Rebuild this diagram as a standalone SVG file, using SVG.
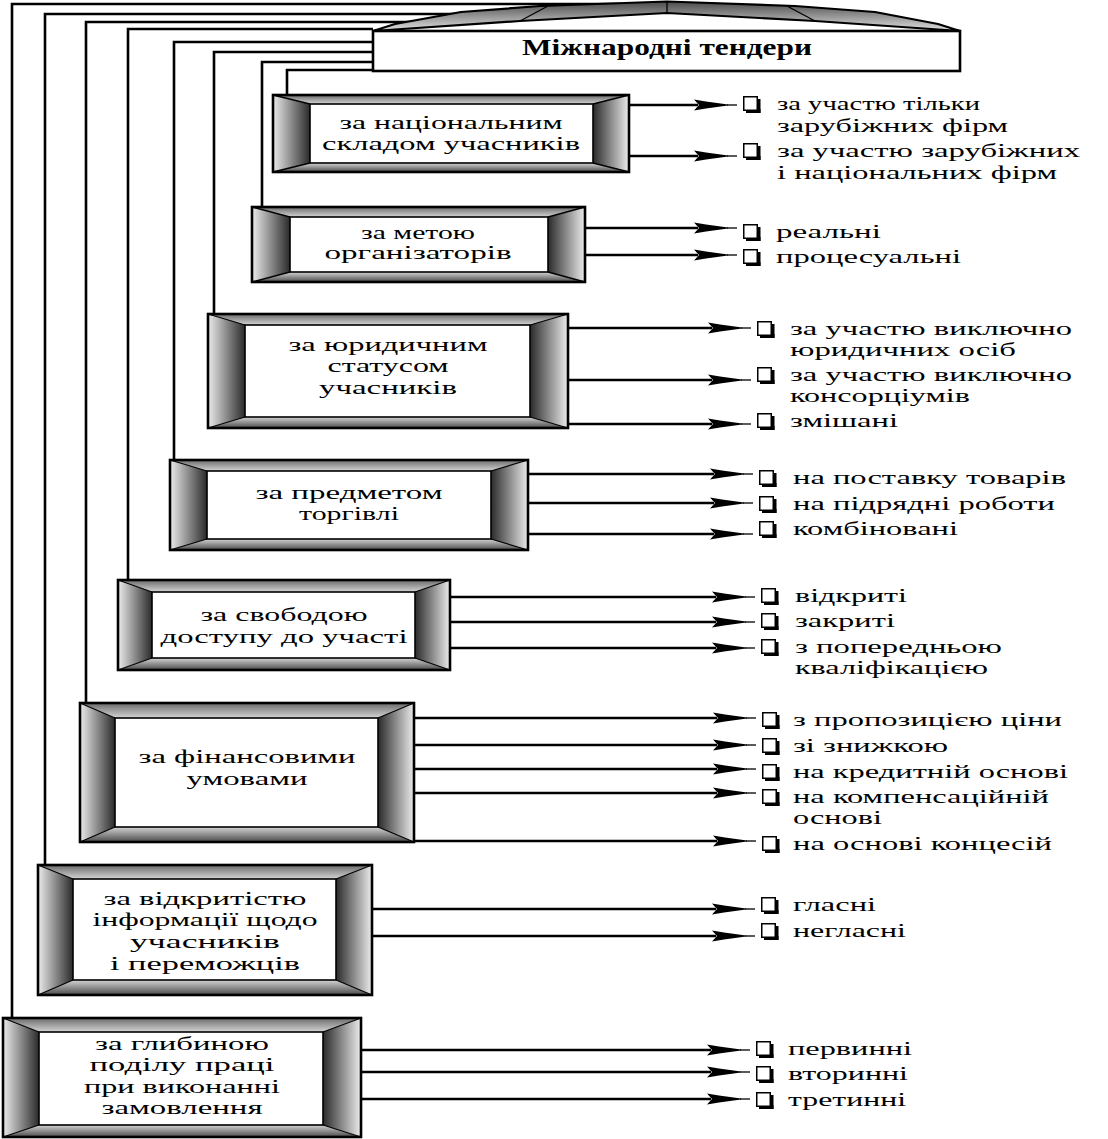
<svg xmlns="http://www.w3.org/2000/svg" width="1108" height="1139" viewBox="0 0 1108 1139">
<defs>
<style>
.ln{stroke:#000;stroke-width:2.6;fill:none}
.ar{stroke:#000;stroke-width:2.6;fill:none;marker-end:url(#ah)}
.ol{fill:none;stroke:#000;stroke-width:2.6}
.ir{fill:#fff;stroke:#000;stroke-width:1.6}
.dg{stroke:#000;stroke-width:1.3}
.t{font-family:"Liberation Serif","Times New Roman",serif;font-size:19.5px;fill:#000}
.c{text-anchor:middle}
.h{font-weight:bold;font-size:23px}
</style>
<linearGradient id="gL" x1="0" y1="0" x2="1" y2="0"><stop offset="0" stop-color="#ececec"/><stop offset="1" stop-color="#2a2a2a"/></linearGradient>
<linearGradient id="gR" x1="0" y1="0" x2="1" y2="0"><stop offset="0" stop-color="#2a2a2a"/><stop offset="1" stop-color="#ececec"/></linearGradient>
<linearGradient id="gT" x1="0" y1="0" x2="0" y2="1"><stop offset="0" stop-color="#6a6a6a"/><stop offset="1" stop-color="#d4d4d4"/></linearGradient>
<linearGradient id="gB" x1="0" y1="0" x2="0" y2="1"><stop offset="0" stop-color="#d4d4d4"/><stop offset="1" stop-color="#4a4a4a"/></linearGradient>
<linearGradient id="gRoof" x1="0" y1="0" x2="0" y2="1"><stop offset="0" stop-color="#4a4a4a"/><stop offset="1" stop-color="#e0e0e0"/></linearGradient>
<marker id="ah" markerUnits="userSpaceOnUse" markerWidth="50" markerHeight="16" viewBox="-4 -8 50 16" refX="0" refY="0" orient="auto" overflow="visible">
<path d="M-4,-5.5 L8,-3.5 L30,-0.6 L30,0.6 L8,3.5 L-4,5.5 L1,0 Z" fill="#000"/>
<line x1="29" y1="0" x2="39" y2="0" stroke="#000" stroke-width="1.3"/>
</marker>
<g id="cbx">
<rect x="3" y="13" width="14.5" height="4" fill="#000"/>
<rect x="13.5" y="3" width="4" height="14" fill="#000"/>
<rect x="0.75" y="0.75" width="13.5" height="13.5" fill="#fff" stroke="#000" stroke-width="1.5"/>
</g>
</defs>

<rect width="1108" height="1139" fill="#fff"/>

<g id="connectors">
<path class="ln" d="M12,1018 V4 H620"/>
<path class="ln" d="M45,865 V14 H480"/>
<path class="ln" d="M86,703 V22 H450"/>
<path class="ln" d="M128,580 V29 H373"/>
<path class="ln" d="M174,460 V42 H373"/>
<path class="ln" d="M214,314 V52 H373"/>
<path class="ln" d="M262,207 V62 H373"/>
<path class="ln" d="M287,95 V70 H373"/>

<path class="ar" d="M629,105 H698"/>
<path class="ar" d="M629,156 H698"/>
<path class="ar" d="M585,228 H698"/>
<path class="ar" d="M585,255 H698"/>
<path class="ar" d="M568,328 H712"/>
<path class="ar" d="M568,380 H712"/>
<path class="ar" d="M568,424 H712"/>
<path class="ar" d="M528,474 H714"/>
<path class="ar" d="M528,503 H714"/>
<path class="ar" d="M528,534 H714"/>
<path class="ar" d="M450,597 H716"/>
<path class="ar" d="M450,622 H716"/>
<path class="ar" d="M450,648 H716"/>
<path class="ar" d="M414,718 H717"/>
<path class="ar" d="M414,745 H717"/>
<path class="ar" d="M414,769 H717"/>
<path class="ar" d="M414,793 H717"/>
<path class="ar" d="M414,841 H717"/>
<path class="ar" d="M372,909 H716"/>
<path class="ar" d="M372,936 H716"/>
<path class="ar" d="M361,1050 H711"/>
<path class="ar" d="M361,1072 H711"/>
<path class="ar" d="M361,1099 H711"/>
</g>

<g id="root">
<path d="M373,31 L395,24 L461,12 L540,6 L667,1.5 L795,6 L875,12 L938,24 L960,31 L815,21 L667,13 L520,21 Z" fill="url(#gRoof)" stroke="#000" stroke-width="2.2" stroke-linejoin="round"/>
<line class="dg" x1="520" y1="21" x2="548" y2="6"/>
<line class="dg" x1="667" y1="1.5" x2="667" y2="13"/>
<line class="dg" x1="787" y1="6" x2="815" y2="21"/>
<rect x="373" y="31" width="587" height="40" fill="#fff" stroke="#000" stroke-width="2.6"/>
<text class="t c h" x="667" y="55" textLength="290" lengthAdjust="spacingAndGlyphs">Міжнародні тендери</text>
</g>

<g id="n1">
<polygon points="273,95 629,95 593,104 310,104" fill="url(#gT)"/>
<polygon points="273,172 629,172 593,163 310,163" fill="url(#gB)"/>
<polygon points="273,95 310,104 310,163 273,172" fill="url(#gL)"/>
<polygon points="629,95 593,104 593,163 629,172" fill="url(#gR)"/>
<path class="dg" d="M273,95 L310,104 M629,95 L593,104 M273,172 L310,163 M629,172 L593,163"/>
<rect class="ir" x="310" y="104" width="283" height="59"/>
<rect class="ol" x="273" y="95" width="356" height="77"/>
<text class="t c" x="451" y="129" textLength="223" lengthAdjust="spacingAndGlyphs">за національним</text>
<text class="t c" x="451" y="150" textLength="258" lengthAdjust="spacingAndGlyphs">складом учасників</text>
</g>

<g id="n2">
<polygon points="252,207 585,207 548,217 290,217" fill="url(#gT)"/>
<polygon points="252,282 585,282 548,272 290,272" fill="url(#gB)"/>
<polygon points="252,207 290,217 290,272 252,282" fill="url(#gL)"/>
<polygon points="585,207 548,217 548,272 585,282" fill="url(#gR)"/>
<path class="dg" d="M252,207 L290,217 M585,207 L548,217 M252,282 L290,272 M585,282 L548,272"/>
<rect class="ir" x="290" y="217" width="258" height="55"/>
<rect class="ol" x="252" y="207" width="333" height="75"/>
<text class="t c" x="418" y="239" textLength="114" lengthAdjust="spacingAndGlyphs">за метою</text>
<text class="t c" x="418" y="259" textLength="187" lengthAdjust="spacingAndGlyphs">організаторів</text>
</g>

<g id="n3">
<polygon points="208,314 568,314 530,325 245,325" fill="url(#gT)"/>
<polygon points="208,428 568,428 530,417 245,417" fill="url(#gB)"/>
<polygon points="208,314 245,325 245,417 208,428" fill="url(#gL)"/>
<polygon points="568,314 530,325 530,417 568,428" fill="url(#gR)"/>
<path class="dg" d="M208,314 L245,325 M568,314 L530,325 M208,428 L245,417 M568,428 L530,417"/>
<rect class="ir" x="245" y="325" width="285" height="92"/>
<rect class="ol" x="208" y="314" width="360" height="114"/>
<text class="t c" x="388" y="351" textLength="199" lengthAdjust="spacingAndGlyphs">за юридичним</text>
<text class="t c" x="388" y="372" textLength="121" lengthAdjust="spacingAndGlyphs">статусом</text>
<text class="t c" x="388" y="394" textLength="138" lengthAdjust="spacingAndGlyphs">учасників</text>
</g>

<g id="n4">
<polygon points="170,460 528,460 491,471 207,471" fill="url(#gT)"/>
<polygon points="170,550 528,550 491,539 207,539" fill="url(#gB)"/>
<polygon points="170,460 207,471 207,539 170,550" fill="url(#gL)"/>
<polygon points="528,460 491,471 491,539 528,550" fill="url(#gR)"/>
<path class="dg" d="M170,460 L207,471 M528,460 L491,471 M170,550 L207,539 M528,550 L491,539"/>
<rect class="ir" x="207" y="471" width="284" height="68"/>
<rect class="ol" x="170" y="460" width="358" height="90"/>
<text class="t c" x="349" y="499" textLength="187" lengthAdjust="spacingAndGlyphs">за предметом</text>
<text class="t c" x="349" y="520" textLength="100" lengthAdjust="spacingAndGlyphs">торгівлі</text>
</g>

<g id="n5">
<polygon points="118,580 450,580 415,592 152,592" fill="url(#gT)"/>
<polygon points="118,670 450,670 415,658 152,658" fill="url(#gB)"/>
<polygon points="118,580 152,592 152,658 118,670" fill="url(#gL)"/>
<polygon points="450,580 415,592 415,658 450,670" fill="url(#gR)"/>
<path class="dg" d="M118,580 L152,592 M450,580 L415,592 M118,670 L152,658 M450,670 L415,658"/>
<rect class="ir" x="152" y="592" width="263" height="66"/>
<rect class="ol" x="118" y="580" width="332" height="90"/>
<text class="t c" x="284" y="621" textLength="167" lengthAdjust="spacingAndGlyphs">за свободою</text>
<text class="t c" x="284" y="643" textLength="247" lengthAdjust="spacingAndGlyphs">доступу до участі</text>
</g>

<g id="n6">
<polygon points="80,703 414,703 378,718 115,718" fill="url(#gT)"/>
<polygon points="80,842 414,842 378,827 115,827" fill="url(#gB)"/>
<polygon points="80,703 115,718 115,827 80,842" fill="url(#gL)"/>
<polygon points="414,703 378,718 378,827 414,842" fill="url(#gR)"/>
<path class="dg" d="M80,703 L115,718 M414,703 L378,718 M80,842 L115,827 M414,842 L378,827"/>
<rect class="ir" x="115" y="718" width="263" height="109"/>
<rect class="ol" x="80" y="703" width="334" height="139"/>
<text class="t c" x="247" y="763" textLength="217" lengthAdjust="spacingAndGlyphs">за фінансовими</text>
<text class="t c" x="247" y="785" textLength="121" lengthAdjust="spacingAndGlyphs">умовами</text>
</g>

<g id="n7">
<polygon points="38,865 372,865 336,879 73,879" fill="url(#gT)"/>
<polygon points="38,995 372,995 336,980 73,980" fill="url(#gB)"/>
<polygon points="38,865 73,879 73,980 38,995" fill="url(#gL)"/>
<polygon points="372,865 336,879 336,980 372,995" fill="url(#gR)"/>
<path class="dg" d="M38,865 L73,879 M372,865 L336,879 M38,995 L73,980 M372,995 L336,980"/>
<rect class="ir" x="73" y="879" width="263" height="101"/>
<rect class="ol" x="38" y="865" width="334" height="130"/>
<text class="t c" x="205" y="905" textLength="203" lengthAdjust="spacingAndGlyphs">за відкритістю</text>
<text class="t c" x="205" y="926" textLength="225" lengthAdjust="spacingAndGlyphs">інформації щодо</text>
<text class="t c" x="205" y="948" textLength="150" lengthAdjust="spacingAndGlyphs">учасників</text>
<text class="t c" x="205" y="970" textLength="190" lengthAdjust="spacingAndGlyphs">і переможців</text>
</g>

<g id="n8">
<polygon points="3,1018 361,1018 323,1032 39,1032" fill="url(#gT)"/>
<polygon points="3,1137 361,1137 323,1125 39,1125" fill="url(#gB)"/>
<polygon points="3,1018 39,1032 39,1125 3,1137" fill="url(#gL)"/>
<polygon points="361,1018 323,1032 323,1125 361,1137" fill="url(#gR)"/>
<path class="dg" d="M3,1018 L39,1032 M361,1018 L323,1032 M3,1137 L39,1125 M361,1137 L323,1125"/>
<rect class="ir" x="39" y="1032" width="284" height="93"/>
<rect class="ol" x="3" y="1018" width="358" height="119"/>
<text class="t c" x="182" y="1050" textLength="174" lengthAdjust="spacingAndGlyphs">за глибиною</text>
<text class="t c" x="182" y="1071" textLength="185" lengthAdjust="spacingAndGlyphs">поділу праці</text>
<text class="t c" x="182" y="1093" textLength="196" lengthAdjust="spacingAndGlyphs">при виконанні</text>
<text class="t c" x="182" y="1114" textLength="161" lengthAdjust="spacingAndGlyphs">замовлення</text>
</g>

<g id="items1">
<use href="#cbx" x="743" y="96"/>
<text class="t" x="777" y="110" textLength="203" lengthAdjust="spacingAndGlyphs">за участю тільки</text>
<text class="t" x="777" y="132" textLength="231" lengthAdjust="spacingAndGlyphs">зарубіжних фірм</text>
<use href="#cbx" x="743" y="143"/>
<text class="t" x="777" y="157" textLength="303" lengthAdjust="spacingAndGlyphs">за участю зарубіжних</text>
<text class="t" x="777" y="179" textLength="280" lengthAdjust="spacingAndGlyphs">і національних фірм</text>
</g>
<g id="items2">
<use href="#cbx" x="743" y="224"/>
<text class="t" x="776" y="238" textLength="105" lengthAdjust="spacingAndGlyphs">реальні</text>
<use href="#cbx" x="743" y="249"/>
<text class="t" x="776" y="263" textLength="185" lengthAdjust="spacingAndGlyphs">процесуальні</text>
</g>
<g id="items3">
<use href="#cbx" x="757" y="321"/>
<text class="t" x="790" y="335" textLength="282" lengthAdjust="spacingAndGlyphs">за участю виключно</text>
<text class="t" x="790" y="356" textLength="226" lengthAdjust="spacingAndGlyphs">юридичних осіб</text>
<use href="#cbx" x="757" y="367"/>
<text class="t" x="790" y="381" textLength="282" lengthAdjust="spacingAndGlyphs">за участю виключно</text>
<text class="t" x="790" y="402" textLength="180" lengthAdjust="spacingAndGlyphs">консорціумів</text>
<use href="#cbx" x="757" y="413"/>
<text class="t" x="790" y="427" textLength="108" lengthAdjust="spacingAndGlyphs">змішані</text>
</g>
<g id="items4">
<use href="#cbx" x="759" y="470"/>
<text class="t" x="793" y="484" textLength="273" lengthAdjust="spacingAndGlyphs">на поставку товарів</text>
<use href="#cbx" x="759" y="496"/>
<text class="t" x="793" y="510" textLength="262" lengthAdjust="spacingAndGlyphs">на підрядні роботи</text>
<use href="#cbx" x="759" y="521"/>
<text class="t" x="793" y="535" textLength="165" lengthAdjust="spacingAndGlyphs">комбіновані</text>
</g>
<g id="items5">
<use href="#cbx" x="761" y="588"/>
<text class="t" x="795" y="602" textLength="112" lengthAdjust="spacingAndGlyphs">відкриті</text>
<use href="#cbx" x="761" y="613"/>
<text class="t" x="795" y="627" textLength="100" lengthAdjust="spacingAndGlyphs">закриті</text>
<use href="#cbx" x="761" y="639"/>
<text class="t" x="795" y="653" textLength="207" lengthAdjust="spacingAndGlyphs">з попередньою</text>
<text class="t" x="795" y="674" textLength="193" lengthAdjust="spacingAndGlyphs">кваліфікацією</text>
</g>
<g id="items6">
<use href="#cbx" x="762" y="712"/>
<text class="t" x="793" y="726" textLength="269" lengthAdjust="spacingAndGlyphs">з пропозицією ціни</text>
<use href="#cbx" x="762" y="738"/>
<text class="t" x="793" y="752" textLength="155" lengthAdjust="spacingAndGlyphs">зі знижкою</text>
<use href="#cbx" x="762" y="764"/>
<text class="t" x="793" y="778" textLength="275" lengthAdjust="spacingAndGlyphs">на кредитній основі</text>
<use href="#cbx" x="762" y="789"/>
<text class="t" x="793" y="803" textLength="256" lengthAdjust="spacingAndGlyphs">на компенсаційній</text>
<text class="t" x="793" y="824" textLength="89" lengthAdjust="spacingAndGlyphs">основі</text>
<use href="#cbx" x="762" y="836"/>
<text class="t" x="793" y="850" textLength="259" lengthAdjust="spacingAndGlyphs">на основі концесій</text>
</g>
<g id="items7">
<use href="#cbx" x="761" y="897"/>
<text class="t" x="793" y="911" textLength="83" lengthAdjust="spacingAndGlyphs">гласні</text>
<use href="#cbx" x="761" y="923"/>
<text class="t" x="793" y="937" textLength="113" lengthAdjust="spacingAndGlyphs">негласні</text>
</g>
<g id="items8">
<use href="#cbx" x="756" y="1041"/>
<text class="t" x="788" y="1055" textLength="124" lengthAdjust="spacingAndGlyphs">первинні</text>
<use href="#cbx" x="756" y="1066"/>
<text class="t" x="788" y="1080" textLength="120" lengthAdjust="spacingAndGlyphs">вторинні</text>
<use href="#cbx" x="756" y="1092"/>
<text class="t" x="788" y="1106" textLength="118" lengthAdjust="spacingAndGlyphs">третинні</text>
</g>
</svg>
